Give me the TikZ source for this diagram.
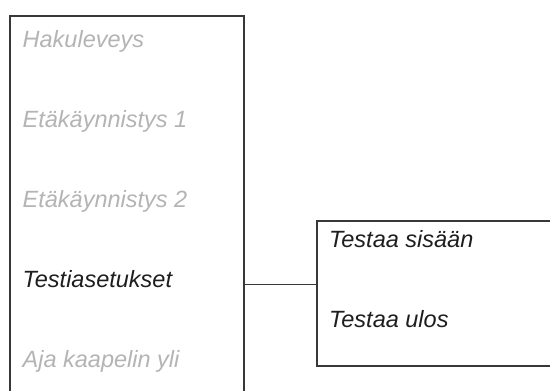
\documentclass[tikz,border=0pt]{standalone}
\usepackage{fontspec}
\setmainfont{Liberation Sans}
\definecolor{framecol}{HTML}{383838}
\definecolor{dimtext}{HTML}{B4B4B4}
\definecolor{darktext}{HTML}{1E1E1E}
\tikzset{
  frame/.style={draw=framecol, line width=1.3pt},
  item/.style={anchor=base west, inner sep=0pt, font=\fontsize{23.5}{28}\selectfont\itshape},
  dimitem/.style={item, text=dimtext},
  activeitem/.style={item, text=darktext},
}
\begin{document}
\begin{tikzpicture}[x=1pt, y=-1pt]
\useasboundingbox (0,0) rectangle (550,391);
\fill[white] (0,0) rectangle (550,391);
% left menu box (open at bottom)
\coordinate (lbl) at (10,395);
\coordinate (ltl) at (10,16);
\coordinate (ltr) at (244,16);
\coordinate (lbr) at (244,395);
\draw[frame] (lbl) -- (ltl) -- (ltr) -- (lbr);
% right submenu box (open at right)
\coordinate (rbr) at (555,366);
\coordinate (rbl) at (317,366);
\coordinate (rtl) at (317,221);
\coordinate (rtr) at (555,221);
\draw[frame] (rbr) -- (rbl) -- (rtl) -- (rtr);
% connector
\coordinate (ca) at (244,284.5);
\coordinate (cb) at (317,284.5);
\draw[frame] (ca) -- (cb);
% items
\node[dimitem] (m1) at (22.5,47) {Hakuleveys};
\node[dimitem] (m2) at (22.5,127) {Etäkäynnistys 1};
\node[dimitem] (m3) at (22.5,207) {Etäkäynnistys 2};
\node[activeitem] (m4) at (22.5,287) {Testiasetukset};
\node[dimitem] (m5) at (22.5,367) {Aja kaapelin yli};
\node[activeitem] (s1) at (329,247) {Testaa sisään};
\node[activeitem] (s2) at (329,327) {Testaa ulos};
\end{tikzpicture}
\end{document}
